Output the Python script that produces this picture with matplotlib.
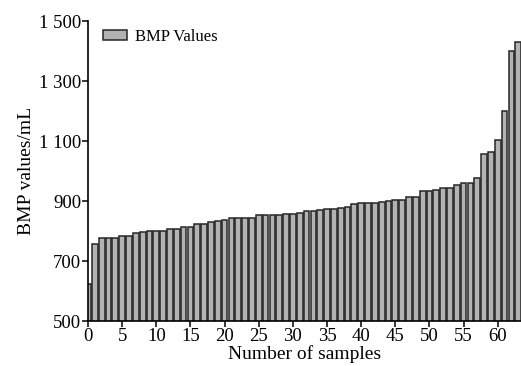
import numpy as np
import matplotlib
matplotlib.use("Agg")
import matplotlib.pyplot as plt
from matplotlib.ticker import FuncFormatter

# BMP values per sample, sorted ascending
samples = np.arange(64)
bmp_values = [625, 757, 776, 777, 777, 782, 785, 792, 798, 799,
              799, 801, 806, 807, 812, 813, 822, 823, 831, 835,
              836, 842, 843, 843, 844, 852, 853, 853, 853, 856,
              857, 860, 866, 868, 869, 872, 873, 877, 880, 889,
              892, 893, 894, 898, 899, 903, 903, 913, 914, 932,
              933, 938, 942, 943, 953, 959, 959, 978, 1058, 1064,
              1102, 1200, 1401, 1430]
x_ticks = list(range(0, 61, 5))
y_ticks = [500, 700, 900, 1100, 1300, 1500]

plt.rcParams['font.family'] = ['Liberation Serif', 'DejaVu Serif']

fig = plt.figure(figsize=(5.21, 3.66), dpi=100)
ax = fig.add_axes([88 / 521, 45 / 366, 433 / 521, 300 / 366])

ax.bar(samples, bmp_values, width=0.84, bottom=0, color='#b3b3b3',
       edgecolor='#262626', linewidth=1.1, label='BMP Values')

ax.set_xlim(0, 63.4)
ax.set_ylim(500, 1500)
ax.set_xticks(x_ticks)
ax.set_yticks(y_ticks)
ax.yaxis.set_major_formatter(FuncFormatter(
    lambda v, p: f"{int(v):,}".replace(",", " ")))

for side in ['top', 'right']:
    ax.spines[side].set_visible(False)
ax.spines['left'].set_linewidth(1.2)
ax.spines['bottom'].set_linewidth(1.2)
ax.tick_params(direction='out', length=4, width=1.1, labelsize=13.5, pad=1)

ax.set_xlabel("Number of samples", fontsize=14, labelpad=0)
ax.set_ylabel("BMP values/mL", fontsize=14, labelpad=3)

ax.legend(loc='upper left', bbox_to_anchor=(0.02, 0.995), frameon=False,
          fontsize=12, handlelength=1.4, handleheight=0.55,
          handletextpad=0.5, borderaxespad=0)

fig.savefig("out.png", dpi=100)
